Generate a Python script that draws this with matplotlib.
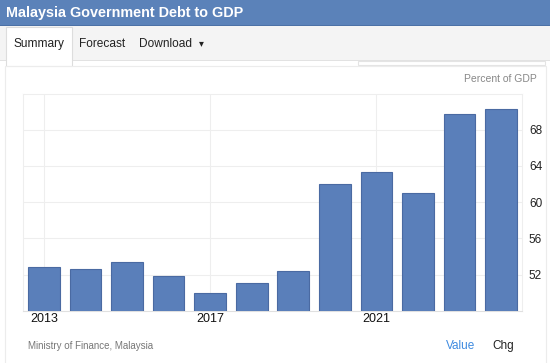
import matplotlib
matplotlib.use("Agg")
import matplotlib.pyplot as plt
from matplotlib.patches import Rectangle

plt.rcParams['font.family'] = ['Liberation Sans', 'DejaVu Sans']

# data
years = [2013, 2014, 2015, 2016, 2017, 2018, 2019, 2020, 2021, 2022, 2023, 2024]
debt_to_gdp = [52.8, 52.6, 53.4, 51.8, 50.0, 51.1, 52.4, 62.0, 63.3, 61.0, 69.7, 70.3]
year_labels = ['2013', '2017', '2021']
yticks = [52, 56, 60, 64, 68]

W, H = 550, 363
fig = plt.figure(figsize=(W / 100, H / 100), dpi=100)
fig.patch.set_facecolor('white')


def fx(x):
    return x / W


def fy(y):
    # y measured from the top in pixels
    return 1 - y / H


def box(x0, y0, x1, y1, **kw):
    fig.patches.append(Rectangle((fx(x0), fy(y1)), fx(x1 - x0), (y1 - y0) / H,
                                 transform=fig.transFigure, **kw))


# header + tab strip
box(0, 0, W, 26, facecolor='#5b82b9', edgecolor='none')
box(0, 25, W, 26, facecolor='#4c71a6', edgecolor='none')
box(0, 26, W, 60, facecolor='#f4f4f4', edgecolor='none')
box(0, 60, W, 61, facecolor='#e2e2e2', edgecolor='none')
box(6, 27, 72, 66, facecolor='white', edgecolor='#dddddd', linewidth=0.8)
box(358, 61, 545, 65, facecolor='white', edgecolor='#e4e4e4', linewidth=0.8)
box(5, 66, 545.5, 370, facecolor='none', edgecolor='#ececec', linewidth=0.8)

fig.text(fx(6), fy(13), 'Malaysia Government Debt to GDP', color='white',
         fontsize=10.4, fontweight='bold', va='center', ha='left')
fig.text(fx(13), fy(44), 'Summary', color='#222222', fontsize=8.6, va='center')
fig.text(fx(79), fy(44), 'Forecast', color='#222222', fontsize=8.6, va='center')
fig.text(fx(139), fy(44), 'Download', color='#222222', fontsize=8.6, va='center')
fig.text(fx(199), fy(43), '\u25be', color='#222222', fontsize=7, va='center')

# chart
left, right, top, bottom = 23, 522, 93.5, 310.7
ax = fig.add_axes([fx(left), fy(bottom), fx(right - left), (bottom - top) / H])
xpos = list(range(len(years)))
ax.bar(xpos, debt_to_gdp, width=0.76, color='#5a7fba', edgecolor='#4a6aa2',
       linewidth=0.8, zorder=3)
ax.set_xlim(-0.5, len(years) - 0.5)
ax.set_ylim(48, 72)

label_pos = [years.index(int(y)) for y in year_labels]
ax.set_xticks(label_pos)
ax.set_xticklabels(year_labels, fontsize=9, color='#111111')
ax.set_yticks(yticks)
ax.set_yticklabels([str(v) for v in yticks], fontsize=8.5, color='#222222')
ax.yaxis.tick_right()
ax.tick_params(axis='both', length=0)
ax.tick_params(axis='y', pad=5)
ax.tick_params(axis='x', pad=2)
ax.grid(True, color='#eeeeee', linewidth=0.8, zorder=0)
for s in ax.spines.values():
    s.set_color('#eeeeee')
    s.set_linewidth(0.8)
ax.spines['bottom'].set_color('#e0e0e0')

fig.text(fx(537), fy(79), 'Percent of GDP', color='#888888', fontsize=7.5,
         ha='right', va='center')
fig.text(fx(28), fy(346), 'Ministry of Finance, Malaysia', color='#777777',
         fontsize=7, ha='left', va='center')
fig.text(fx(446), fy(346), 'Value', color='#3d8ae0', fontsize=8.5,
         ha='left', va='center')
fig.text(fx(492), fy(346), 'Chg', color='#222222', fontsize=8.5,
         ha='left', va='center')

fig.savefig('out.png', dpi=100)
